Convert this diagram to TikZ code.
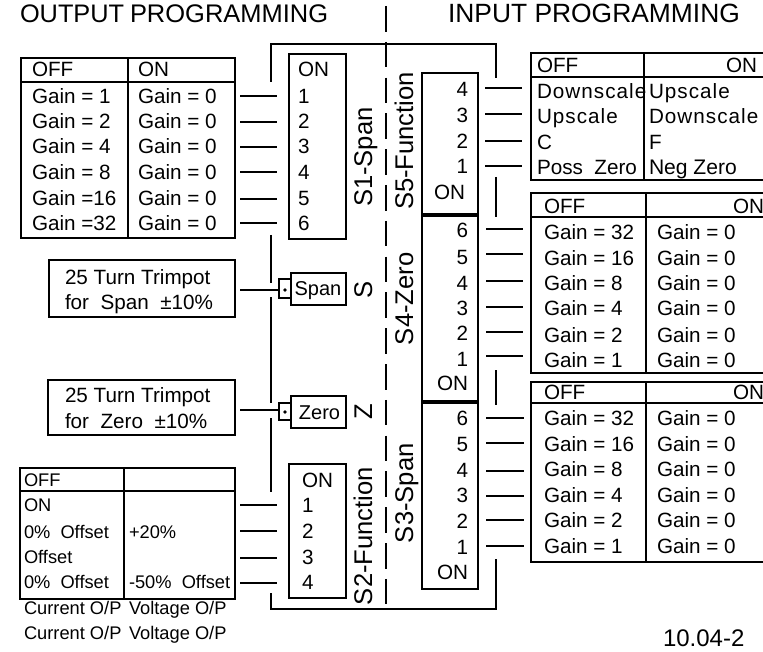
\documentclass[tikz,border=0pt]{standalone}
\usepackage{fontspec}
\setmainfont{Liberation Sans}
\newfontfamily\spaced[LetterSpace=5]{Liberation Sans}
\newcommand\fsz[1]{\fontsize{#1}{#1}\selectfont}
\tikzset{
  pb/.style={draw,line width=1.5pt,inner sep=0pt,outer sep=0pt,fill=white},
  wire/.style={line width=1.5pt},
  lbl/.style={anchor=base west,inner sep=0pt,outer sep=0pt,font=\fsz{15.5}},
  lblr/.style={anchor=base east,inner sep=0pt,outer sep=0pt,font=\fsz{15.5}},
  small/.style={anchor=base west,inner sep=0pt,outer sep=0pt,font=\fsz{13.7}},
  vert/.style={rotate=90,anchor=base west,inner sep=0pt,outer sep=0pt,font=\fsz{19.2}},
  head/.style={anchor=base west,inner sep=0pt,outer sep=0pt}
}
\newcommand\pbox[5]{%
  \pgfmathsetmacro\wid{(#4-#2)*0.75}\pgfmathsetmacro\hei{(#5-#3)*0.75}%
  \node[pb,minimum width=\wid pt,minimum height=\hei pt] (#1) at ({(#2+#4)/2},{(#3+#5)/2}) {};}
% open-right table, cut by the picture edge
\newcommand\opentable[4]{% top, headerline, bottom, column
  \draw[wire] (763,#1) -| (531,#3) -- (763,#3);
  \draw[wire] (531,#2) -- (763,#2);
  \draw[wire] (#4,#1) -- (#4,#3);}
\newcommand\stub[4]{% name, x1, x2, y
  \coordinate (#1a) at (#2,#4); \coordinate (#1b) at (#3,#4);
  \draw[wire] (#1a) -- (#1b);}
\begin{document}
\begin{tikzpicture}[x=0.75pt,y=-0.75pt]
\useasboundingbox (0,0) rectangle (763,652);
% headings
\node[head,font=\fsz{19}] (hout1) at (20,23) {OUTPUT};
\node[head,font=\fsz{19.1}] (hout2) at (130,23) {PROGRAMMING};
\node[head,font=\fsz{19.8}] (hin) at (448,23) {INPUT PROGRAMMING};
\node[head,font=\fsz{18}] (ver) at (663,646) {10.04-2};
% centre line
\coordinate (ctop) at (386,6); \coordinate (cbot) at (386,607);
\draw[line width=1.5pt,dash pattern=on 19.2pt off 7.65pt] (ctop) -- (cbot);
% surrounding wire
\coordinate (w1) at (271,82); \coordinate (w2) at (271,44.5); \coordinate (w3) at (495.5,44.5); \coordinate (w4) at (495.5,78);
\draw[wire] (w1) -- (w2) -- (w3) -- (w4);
\coordinate (w5) at (271,235); \coordinate (w6) at (271,283);
\draw[wire] (w5) -- (w6);
\coordinate (w7) at (271,297); \coordinate (w8) at (271,403);
\draw[wire] (w7) -- (w8);
\coordinate (w9) at (271,418); \coordinate (w10) at (271,492);
\draw[wire] (w9) -- (w10);
\coordinate (w11) at (271,593); \coordinate (w12) at (271,609); \coordinate (w13) at (495.5,609); \coordinate (w14) at (495.5,559);
\draw[wire] (w11) -- (w12) -- (w13) -- (w14);
\coordinate (w15) at (495.5,177); \coordinate (w16) at (495.5,217);
\draw[wire] (w15) -- (w16);
\coordinate (w17) at (495.5,370); \coordinate (w18) at (495.5,405);
\draw[wire] (w17) -- (w18);
% table S1
\pbox{tsone}{21}{58}{235}{238}
\coordinate (tsa) at (21,82); \coordinate (tsb) at (235,82); \coordinate (tsc) at (128,58); \coordinate (tsd) at (128,238);
\draw[wire] (tsa) -- (tsb); \draw[wire] (tsc) -- (tsd);
\node[lbl] (a0) at (32,77) {OFF};
\node[lbl] (b0) at (138,77) {ON};
\foreach \y/\g [count=\i] in {97/Gain = 1,122/Gain = 2,147/Gain = 4,173/Gain = 8,199/Gain =16,224/Gain =32}{
  \node[lbl] (a\i) at (32,\y+7) {\g};
  \node[lbl] (b\i) at (138,\y+7) {Gain = 0};
}
\foreach \y [count=\i] in {96,122,147,172,199,223}{ \stub{sa\i}{240}{277}{\y} }
% switch S1
\pbox{sone}{289}{54}{346}{239}
\node[lbl] (sonon) at (298,77) {ON};
\foreach \y [count=\i] in {97,122,147,173,199,224}{ \node[lbl] (sn\i) at (298,\y+7) {\i}; }
\node[vert] (sonelab) at (372,207) {S1-Span};
% trimpots
\pbox{tspan}{49}{260}{235}{317}
\node[lbl] (tsp1) at (65,284) {25 Turn Trimpot};
\node[lbl] (tsp2) at (65,309) {for\ \ Span\ \ ±10\%};
\stub{cspan}{240}{278}{290}
\pbox{qspan}{279}{279}{291}{298}
\pbox{bspan}{291}{273}{346}{305}
\fill (285,290) circle (1.9);
\node[anchor=center,inner sep=0pt,font=\fsz{15}] (lspan) at (318,291) {Span};
\node[vert,anchor=base] (sS) at (372,290) {S};
\pbox{tzero}{48}{380}{235}{435}
\node[lbl] (tz1) at (65,402) {25 Turn Trimpot};
\node[lbl] (tz2) at (65,428) {for\ \ Zero\ \ ±10\%};
\stub{czero}{240}{278}{410}
\pbox{qzero}{279}{403}{291}{420}
\pbox{bzero}{291}{396}{346}{428}
\fill (285,412) circle (1.9);
\node[anchor=center,inner sep=0pt,font=\fsz{15}] (lzero) at (319.5,413) {Zero};
\node[vert,anchor=base] (sZ) at (372,412) {Z};
% table S2
\node[small] (cur1) at (24,614) {Current O/P};
\node[small] (vol1) at (129,614) {Voltage O/P};
\node[small] (cur2) at (24,639) {Current O/P};
\node[small] (vol2) at (129,639) {Voltage O/P};
\pbox{tstwo}{20}{468}{235}{599}
\coordinate (tta) at (20,491); \coordinate (ttb) at (235,491); \coordinate (ttc) at (124,468); \coordinate (ttd) at (124,599);
\draw[wire] (tta) -- (ttb); \draw[wire] (ttc) -- (ttd);
\node[small] (o0) at (24,486) {OFF};
\node[small] (o1) at (24,511) {ON};
\node[small] (o2) at (24,538) {0\%\ \ Offset};
\node[small] (o3) at (24,563) {Offset};
\node[small] (o4) at (24,588) {0\%\ \ Offset};
\node[small] (p2) at (129,538) {+20\%};
\node[small] (p4) at (129,588) {-50\%\ \ Offset};
\foreach \y [count=\i] in {505,531,558,583}{ \stub{sb\i}{240}{277}{\y} }
% switch S2
\pbox{stwo}{289}{464}{346}{598}
\node[lbl] (stwon) at (302,487) {ON};
\foreach \y [count=\i] in {505,531,557,582}{ \node[lbl] (sm\i) at (302,\y+7) {\i}; }
\node[vert] (stwolab) at (372,605) {S2-Function};
% right switches
\pbox{sfive}{422}{73}{478}{215}
\pbox{sfour}{422}{215}{478}{402}
\pbox{sthree}{422}{402}{478}{589}
\draw[line width=2.6pt] (sfive.south west) -- (sfive.south east);
\draw[line width=2.6pt] (sfour.south west) -- (sfour.south east);
\foreach \y/\n in {90/4,116/3,142/2,167/1}{ \node[lblr] (rf\n) at (468,\y+7) {\n}; }
\node[lblr] (rfon) at (465,200) {ON};
\foreach \y/\n in {231/6,257/5,283/4,308/3,333/2,359/1}{ \node[lblr] (rg\n) at (468,\y+7) {\n}; }
\node[lblr] (rgon) at (468,390) {ON};
\foreach \y/\n in {418/6,444/5,470/4,495/3,521/2,547/1}{ \node[lblr] (rh\n) at (468,\y+7) {\n}; }
\node[lblr] (rhon) at (468,579) {ON};
\node[vert] (sfivelab) at (413,210) {S5-Function};
\node[vert] (sfourlab) at (413,345) {S4-Zero};
\node[vert] (sthreelab) at (413,543) {S3-Span};
% stubs right
\foreach \y [count=\i] in {88,114,141,166}{ \stub{sc\i}{485}{522}{\y} }
\foreach \y [count=\i] in {229,254,281,307,332,356}{ \stub{sd\i}{486}{523}{\y} }
\foreach \y [count=\i] in {418,443,471,496,520,546}{ \stub{se\i}{486}{524}{\y} }
% table S5
\opentable{53.5}{77}{180}{644}
\node[lbl] (f0) at (537,73) {OFF};
\node[lblr] (g0) at (757,73) {ON};
\node[lbl] (f1) at (537,99) {\spaced Downscale};
\node[lbl] (g1) at (649,99) {\spaced Upscale};
\node[lbl] (f2) at (537,124) {\spaced Upscale};
\node[lbl] (g2) at (649,124) {\spaced Downscale};
\node[lbl] (f3) at (537,150) {C};
\node[lbl] (g3) at (649,150) {F};
\node[lbl] (f4) at (537,175) {Poss\ \ Zero};
\node[lbl,font=\fsz{15.8}] (g4) at (649,175) {Neg Zero};
% table S4
\opentable{193}{217}{373}{646}
\node[lbl] (h0) at (544,214) {OFF};
\node[lblr] (i0) at (764,214) {ON};
\foreach \y/\g [count=\i] in {232/32,258/16,283/8,308/4,335/2,360/1}{
  \node[lbl] (h\i) at (544,\y+7) {Gain = \g};
  \node[lbl] (i\i) at (657,\y+7) {Gain = 0};
}
% table S3
\opentable{382}{403}{562}{646}
\node[lbl] (j0) at (544,399) {OFF};
\node[lblr] (k0) at (764,399) {ON};
\foreach \y/\g [count=\i] in {418/32,444/16,469/8,495/4,520/2,546/1}{
  \node[lbl] (j\i) at (544,\y+7) {Gain = \g};
  \node[lbl] (k\i) at (657,\y+7) {Gain = 0};
}
\end{tikzpicture}
\end{document}
